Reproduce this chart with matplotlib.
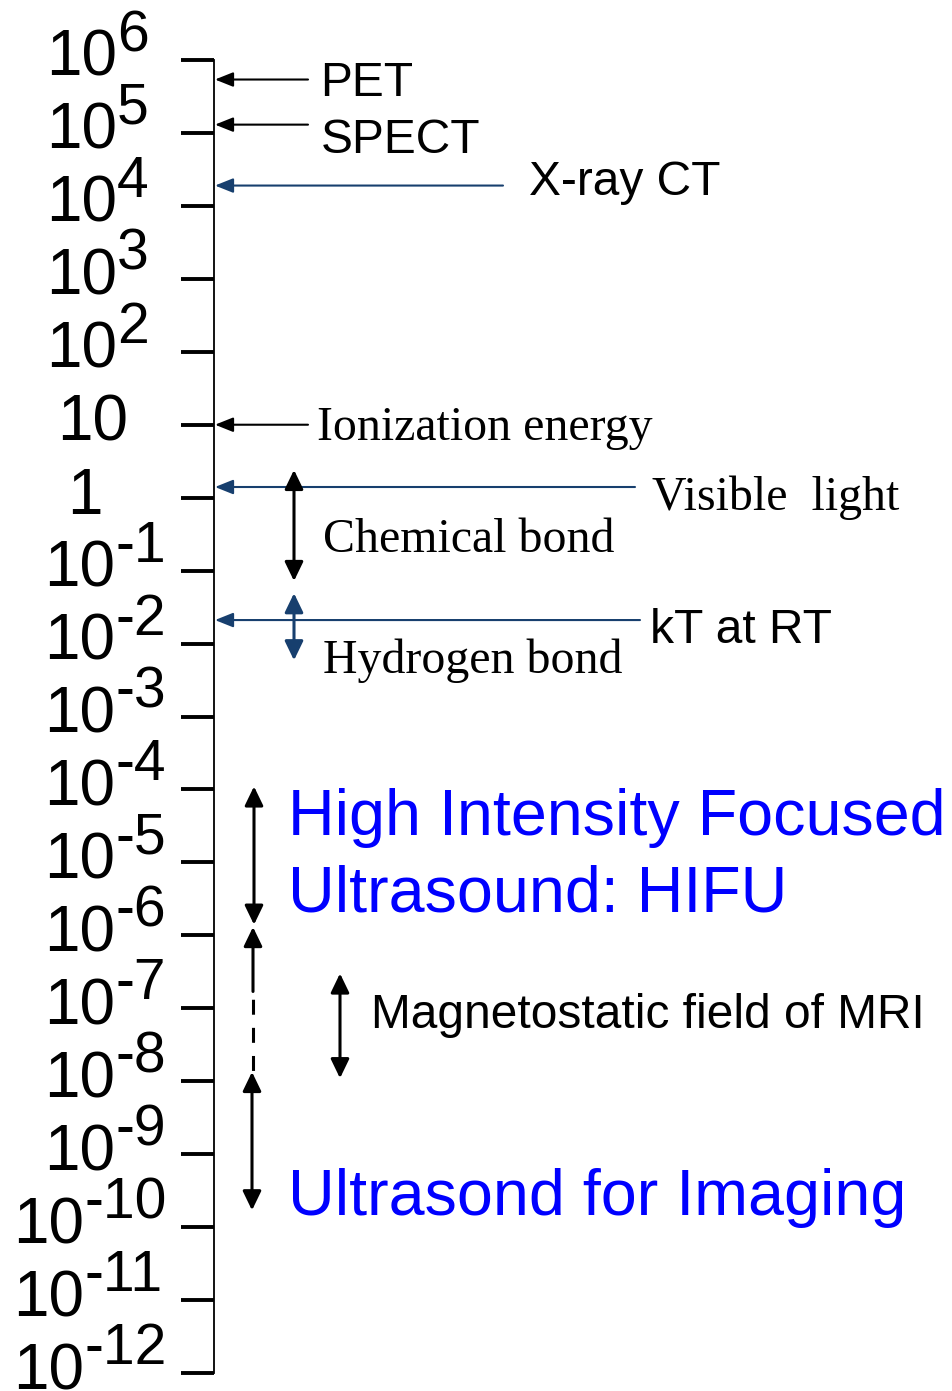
import matplotlib
matplotlib.use('Agg')
import matplotlib.pyplot as plt
from matplotlib.ticker import NullLocator, FixedLocator

# ---------------- data ----------------
decades = list(range(6, -13, -1))              # tick exponents, top to bottom
tick_values = [10.0 ** e for e in decades]

# single energies (horizontal arrows pointing at the axis)
point_labels = ['PET', 'SPECT', 'X-ray CT', 'Ionization energy', 'Visible  light', 'kT at RT']
point_values = [5.4e5, 1.3e5, 1.9e4, 10.0, 1.4, 0.021]

# energy ranges (vertical double arrows)
range_labels = ['Chemical bond', 'Hydrogen bond',
                'High Intensity Focused\nUltrasound: HIFU',
                'Magnetostatic field of MRI', 'Ultrasond for Imaging']
range_high = [2.4, 0.049, 1.1e-4, 3.0e-7, 1.3e-6]
range_low = [0.072, 0.0059, 1.4e-6, 1.1e-8, 1.7e-10]
# ultrasound-for-imaging: the dashed (uncertain) part of its range
imaging_dashed = [1.7e-7, 1.34e-8]

# ---------------- styles / layout ----------------
W, H = 953, 1391
SANS = ['Liberation Sans', 'DejaVu Sans']
SERIF = ['Liberation Serif', 'DejaVu Serif']
NAVY = '#173F6E'
BLUE = '#0000FF'

point_tail_x = [308, 308, 503, 308, 635, 640]
point_colors = ['black', 'black', NAVY, 'black', NAVY, NAVY]
point_fonts = [SANS, SANS, SANS, SERIF, SERIF, SANS]
point_sizes = [34.5, 34.5, 34.5, 34.5, 34.5, 34.5]
point_text_dx = [12, 13, 26, 9, 17, 10]
point_text_dy = [-16, -28.4, -9.5, -15.3, -23, -22.5]

range_x = [294, 294, 254, 340, 252]
range_colors = ['black', NAVY, 'black', 'black', 'black']
range_fonts = [SERIF, SERIF, SANS, SANS, SANS]
range_sizes = [34.5, 34.5, 46.5, 34.5, 46.5]
range_text_colors = ['black', 'black', BLUE, 'black', BLUE]
range_text_dx = [29, 29, 34, 31, 36]
range_text_dy = [29, -13, 90, 50, -5]   # baseline offset from the low end (px)

fig = plt.figure(figsize=(W / 100, H / 100), dpi=100)
ax = fig.add_axes([214.5 / W, (H - 1373) / H, (W - 214.5) / W, (1373 - 60) / H])
ax.set_yscale('log')
ax.set_ylim(tick_values[-1], tick_values[0])
ax.set_xlim(214.5, W)
for s in ['top', 'right', 'bottom']:
    ax.spines[s].set_visible(False)
ax.spines['left'].set_linewidth(1.3)
ax.yaxis.set_major_locator(FixedLocator(tick_values))
ax.yaxis.set_minor_locator(NullLocator())
ax.tick_params(axis='y', which='major', length=24, width=2.8, direction='out',
               labelleft=False, color='black')
ax.set_xticks([])
ax.patch.set_alpha(0)


def txt(s, x, y, dx, dy, **kw):
    ax.annotate(s, xy=(x, y), xytext=(dx, dy), textcoords='offset pixels',
                ha='left', va='baseline', annotation_clip=False, **kw)


# ---- tick labels: 10 with large superscripts ----
for e, v in zip(decades, tick_values):
    if e == 0:
        base, sup, bx = '1', '', 67
    elif e == 1:
        base, sup, bx = '10', '', 57
    elif e > 0:
        base, sup, bx = '10', str(e), 46
    elif e > -10:
        base, sup, bx = '10', '-' + str(-e), 44
    else:
        base, sup, bx = '10', '-' + str(-e), 13
    txt(base, bx, v, 0, -16, fontsize=46, family=SANS, color='black')
    if sup:
        txt(sup, bx + 71, v, 0, 9, fontsize=41, family=SANS, color='black')

# ---- horizontal arrows ----
HSTYLE = '-|>,head_length=0.55,head_width=0.22'
for lab, val, tx, col, fnt, fs, dx, dy in zip(point_labels, point_values, point_tail_x,
                                              point_colors, point_fonts, point_sizes,
                                              point_text_dx, point_text_dy):
    ax.annotate('', xy=(215, val), xytext=(tx, val), annotation_clip=False,
                arrowprops=dict(arrowstyle=HSTYLE, color=col, lw=1.5,
                                shrinkA=0, shrinkB=0, mutation_scale=20))
    txt(lab, tx, val, dx, dy, fontsize=fs, family=fnt, color='black')

# ---- vertical range arrows ----
VSTYLE2 = '<|-|>,head_length=0.58,head_width=0.28'
VSTYLE1 = '-|>,head_length=0.58,head_width=0.28'
for i, (lab, hi, lo, x, col, fnt, fs, tcol, dx, dy) in enumerate(zip(
        range_labels, range_high, range_low, range_x, range_colors, range_fonts,
        range_sizes, range_text_colors, range_text_dx, range_text_dy)):
    if i == 4:
        # upper solid part (head at the top), dashed middle, lower double arrow
        ax.annotate('', xy=(x + 1, hi), xytext=(x + 1, imaging_dashed[0]),
                    arrowprops=dict(arrowstyle=VSTYLE1, color=col, lw=2.2,
                                    shrinkA=0, shrinkB=0, mutation_scale=20))
        ax.plot([x + 1, x + 1], imaging_dashed, color=col, lw=2.2,
                linestyle=(6.5, (4.9, 4.3)), solid_capstyle='butt', dash_capstyle='butt')
        ax.annotate('', xy=(x, imaging_dashed[1]), xytext=(x, lo),
                    arrowprops=dict(arrowstyle=VSTYLE2, color=col, lw=2.2,
                                    shrinkA=0, shrinkB=0, mutation_scale=20))
    else:
        ax.annotate('', xy=(x, hi), xytext=(x, lo),
                    arrowprops=dict(arrowstyle=VSTYLE2, color=col, lw=2.2,
                                    shrinkA=0, shrinkB=0, mutation_scale=20))
    lines = lab.split('\n')
    if len(lines) == 2:
        txt(lines[0], x, lo, dx, dy, fontsize=fs, family=fnt, color=tcol)
        txt(lines[1], x, lo, dx, dy - 77, fontsize=fs, family=fnt, color=tcol)
    else:
        txt(lab, x, lo, dx, dy, fontsize=fs, family=fnt, color=tcol)

fig.savefig('out.png', dpi=100)
